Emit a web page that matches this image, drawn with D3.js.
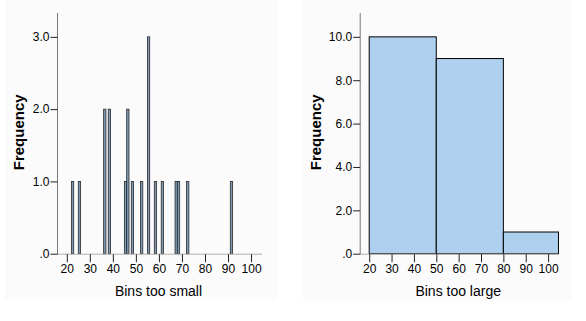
<!DOCTYPE html>
<html>
<head>
<meta charset="utf-8">
<script src="https://cdn.jsdelivr.net/npm/d3@7"></script>
<style>
  html, body { margin: 0; padding: 0; background: #ffffff; }
  svg { display: block; font-family: "Liberation Sans", Arial, sans-serif; }
</style>
</head>
<body>
<svg id="chart" width="586" height="321"></svg>
<script>
// ---- Data ----
const xTicks = [20, 30, 40, 50, 60, 70, 80, 90, 100];

// Left histogram: bins of width 1 (start values) and counts
const smallBinStarts = [22, 25, 36, 38, 45, 46, 48, 52, 55, 58, 61, 67, 68, 72, 91];
const smallBinCounts = [1, 1, 2, 2, 1, 2, 1, 1, 3, 1, 1, 1, 1, 1, 1];
const smallBinWidth = 1;
const smallYTicks = [0, 1, 2, 3];
const smallYTickLabels = [".0", "1.0", "2.0", "3.0"];

// Right histogram: wide bins
const largeBinStarts = [20, 50, 80];
const largeBinEnds = [50, 80, 104.65];
const largeBinCounts = [10, 9, 1];
const largeYTicks = [0, 2, 4, 6, 8, 10];
const largeYTickLabels = [".0", "2.0", "4.0", "6.0", "8.0", "10.0"];

const xTitles = ["Bins too small", "Bins too large"];
const yTitle = "Frequency";

// ---- Drawing ----
const svg = d3.select("#chart");

// panel backgrounds
svg.append("rect").attr("x", 5).attr("y", 0).attr("width", 273).attr("height", 300).attr("fill", "#fbfbfb");
svg.append("rect").attr("x", 303).attr("y", 0).attr("width", 269).attr("height", 301).attr("fill", "#fbfbfb");

function panel(opts) {
  const g = svg.append("g");
  const x = d3.scaleLinear().domain([15.75, 104.75]).range([opts.x0, opts.x1]);
  const y = d3.scaleLinear().domain([0, opts.yMax]).range([opts.y0, opts.yTop]);

  // bars
  g.selectAll("rect.bar").data(opts.bars).enter().append("rect")
    .attr("class", "bar")
    .attr("x", d => x(d.s))
    .attr("width", d => x(d.e) - x(d.s))
    .attr("y", d => y(d.c))
    .attr("height", d => y(0) - y(d.c))
    .attr("fill", opts.fill)
    .attr("stroke", opts.stroke)
    .attr("stroke-width", opts.strokeWidth);

  // baseline
  g.append("line")
    .attr("x1", opts.x0).attr("x2", opts.x1)
    .attr("y1", y(0) + 0.5).attr("y2", y(0) + 0.5)
    .attr("stroke", "#b0b0b0").attr("stroke-width", 1);

  // y axis
  const yAxis = d3.axisLeft(y).tickValues(opts.yTicks)
    .tickFormat((d, i) => opts.yLabels[i]).tickSize(7).tickPadding(1).tickSizeOuter(0);
  const ya = g.append("g").attr("transform", `translate(${opts.x0 + 0.5},0)`).call(yAxis);
  ya.select(".domain").attr("stroke", "#777").attr("d", `M0,${opts.yTop}V${opts.y0 + 0.5}`);
  ya.selectAll(".tick line").attr("stroke", "#222");
  ya.selectAll(".tick text").attr("font-size", 12).attr("fill", "#000")
    .attr("font-family", "Liberation Sans, Arial, sans-serif");

  // x axis
  const xAxis = d3.axisBottom(x).tickValues(xTicks).tickSize(8).tickPadding(2).tickSizeOuter(0);
  const xa = g.append("g").attr("transform", `translate(0,${opts.y0 + 0.5})`).call(xAxis);
  xa.select(".domain").remove();
  xa.selectAll(".tick line").attr("stroke", "#222");
  xa.selectAll(".tick text").attr("font-size", 12).attr("fill", "#000")
    .attr("font-family", "Liberation Sans, Arial, sans-serif");

  // titles
  g.append("text")
    .attr("x", (opts.x0 + opts.x1) / 2 - 1).attr("y", 296)
    .attr("text-anchor", "middle")
    .attr("font-size", 14).attr("fill", "#000")
    .text(opts.xTitle);
  g.append("text")
    .attr("transform", `translate(${opts.yTitleX},${(opts.yTop + opts.y0) / 2 - 1}) rotate(-90)`)
    .attr("text-anchor", "middle")
    .attr("font-size", 15).attr("font-weight", "bold").attr("fill", "#000")
    .text(yTitle);
}

panel({
  x0: 57, x1: 262, y0: 253.7, yTop: 13, yMax: 3.33,
  bars: smallBinStarts.map((s, i) => ({ s: s, e: s + smallBinWidth, c: smallBinCounts[i] })),
  yTicks: smallYTicks, yLabels: smallYTickLabels,
  xTitle: xTitles[0], yTitleX: 24,
  fill: "#7c9ab5", stroke: "#2a2a2a", strokeWidth: 0.8
});

panel({
  x0: 359.7, x1: 558.7, y0: 253.7, yTop: 13, yMax: 11.1,
  bars: largeBinStarts.map((s, i) => ({ s: s, e: largeBinEnds[i], c: largeBinCounts[i] })),
  yTicks: largeYTicks, yLabels: largeYTickLabels,
  xTitle: xTitles[1], yTitleX: 321,
  fill: "#aed0ee", stroke: "#000", strokeWidth: 1
});
</script>
</body>
</html>
